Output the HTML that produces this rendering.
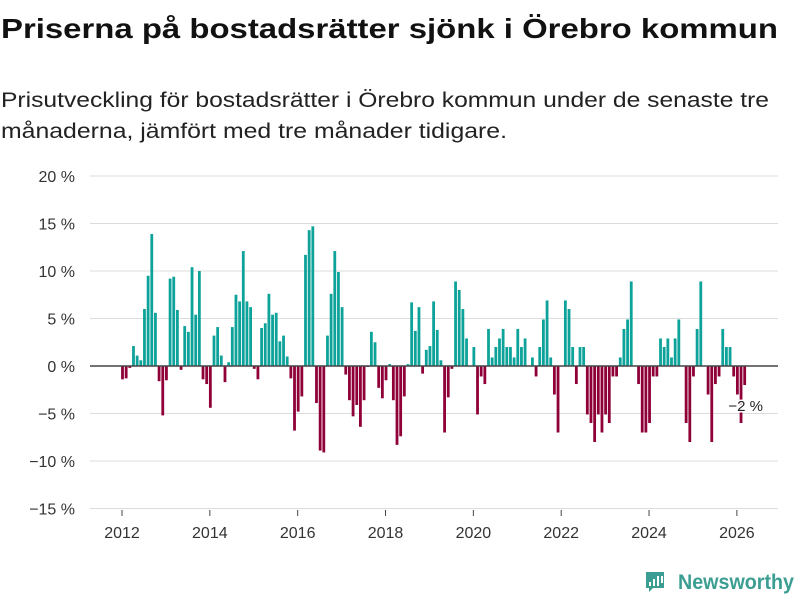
<!DOCTYPE html>
<html><head><meta charset="utf-8"><style>
html,body{margin:0;padding:0;background:#fff;}
svg{display:block;font-family:"Liberation Sans",sans-serif;}
</style></head><body>
<svg id="chart" width="800" height="600" viewBox="0 0 800 600">
<text x="1" y="38" font-size="28" font-weight="bold" fill="#111" textLength="777" lengthAdjust="spacingAndGlyphs">Priserna på bostadsrätter sjönk i Örebro kommun</text>
<text x="1" y="107" font-size="21" fill="#222" textLength="768" lengthAdjust="spacingAndGlyphs">Prisutveckling för bostadsrätter i Örebro kommun under de senaste tre</text>
<text x="1" y="138" font-size="21" fill="#222" textLength="506" lengthAdjust="spacingAndGlyphs">månaderna, jämfört med tre månader tidigare.</text>
<g id="grid"></g><g id="bars"></g><g id="axes"></g>
<g>
<path d="M646 572 h18 v16 h-11 l-4 4 v-4 h-3 z" fill="#3c9e92"/>
<rect x="649" y="582" width="2" height="4" fill="#fff"/><rect x="653" y="579" width="2" height="7" fill="#fff"/><rect x="657" y="576" width="2" height="10" fill="#fff"/><rect x="661" y="576" width="2" height="7" fill="#fff"/>
<text x="678" y="589" font-size="21" font-weight="bold" fill="#3c9e92" textLength="116" lengthAdjust="spacingAndGlyphs">Newsworthy</text>
</g>
</svg>
<script>
const yTicks = [20,15,10,5,0,-5,-10,-15];
const xYears = [2012,2014,2016,2018,2020,2022,2024,2026];
const startYear = 2012;
const values = [-1.4,-1.3,-0.2,2.1,1.1,0.6,6.0,9.5,13.9,5.6,
-1.6,-5.2,-1.5,9.2,9.4,5.9,-0.4,4.2,3.6,10.4,
5.4,10,-1.4,-1.9,-4.4,3.2,4.1,1.1,-1.7,0.4,
4.1,7.5,6.8,12.1,6.8,6.2,-0.3,-1.4,4.0,4.5,
7.6,5.4,5.6,2.6,3.2,1.0,-1.3,-6.8,-4.8,-3.2,
11.7,14.3,14.7,-3.9,-8.9,-9.1,3.2,7.6,12.1,9.9,
6.2,-0.9,-3.6,-5.3,-4.1,-6.4,-3.6,-0.1,3.6,2.5,
-2.3,-3.4,-1.5,0.2,-3.6,-8.3,-7.4,-3.2,0.2,6.7,
3.7,6.2,-0.8,1.7,2.1,6.8,3.8,0.6,-7.0,-3.3,
-0.3,8.9,8.0,6.0,2.9,0,2.0,-5.1,-1.1,-1.9,
3.9,0.9,2.0,2.9,3.9,2.0,2.0,0.9,3.9,2.0,
2.9,0,0.9,-1.1,2.0,4.9,6.9,0.9,-3.0,-7.0,
0,6.9,6.0,2.0,-1.9,2.0,2.0,-5.1,-6.0,-8.0,
-5.1,-7.0,-5.1,-6.0,-1.1,-1.1,0.9,3.9,4.9,8.9,
0,-1.9,-7,-7,-6,-1.1,-1.1,2.9,2.0,2.9,
0.9,2.9,4.9,0,-6,-8,-1.1,3.9,8.9,0,
-3,-8,-1.9,-1.1,3.9,2.0,2.0,-1.1,-3,-6,-2];
const lastLabel = "−2 %";

const NS="http://www.w3.org/2000/svg";
const y = v => 366 - v*9.5;
const xm = i => 122.5 + i*3.66;
const xYear = yr => 122 + (yr-startYear)*43.92;
const grid=document.getElementById('grid'), bars=document.getElementById('bars'), axes=document.getElementById('axes');
function mk(tag, attrs, parent){const e=document.createElementNS(NS,tag);for(const k in attrs)e.setAttribute(k,attrs[k]);parent.appendChild(e);return e;}
yTicks.forEach(t=>{
  if(t!==0){const l=mk('line',{x1:90,x2:778,y1:y(t),y2:y(t),stroke:'#dcdcdc','stroke-width':1},grid);
  
  }
  const tx=mk('text',{x:75,y:y(t)+6,'font-size':16,fill:'#333','text-anchor':'end'},axes);
  tx.textContent=(t<0?'−'+(-t):t)+' %';
  
  
});
values.forEach((v,i)=>{
  const r=mk('rect',{x:xm(i)-1.4,width:2.8,y:v>=0?y(v):y(0),height:Math.abs(v)*9.5,fill:v>=0?'#0ea39a':'#8f0039'},bars);
  
  
});
const z=mk('line',{x1:90,x2:778,y1:366,y2:366,stroke:'#444','stroke-width':1.5},axes);


xYears.forEach(yr=>{
  const tk=mk('line',{x1:xYear(yr),x2:xYear(yr),y1:510,y2:516,stroke:'#444','stroke-width':1},axes);
  
  
  const tx=mk('text',{x:xYear(yr),y:538,'font-size':16,fill:'#333','text-anchor':'middle'},axes);
  tx.textContent=yr;
  
  
});
const li=values.length-1;
const lbl=mk('text',{x:xm(li)+1,y:y(values[li])+26,'font-size':15,fill:'#222','text-anchor':'middle','stroke':'#fff','stroke-width':3,'paint-order':'stroke'},axes);
lbl.textContent=lastLabel;


</script>
</body></html>
